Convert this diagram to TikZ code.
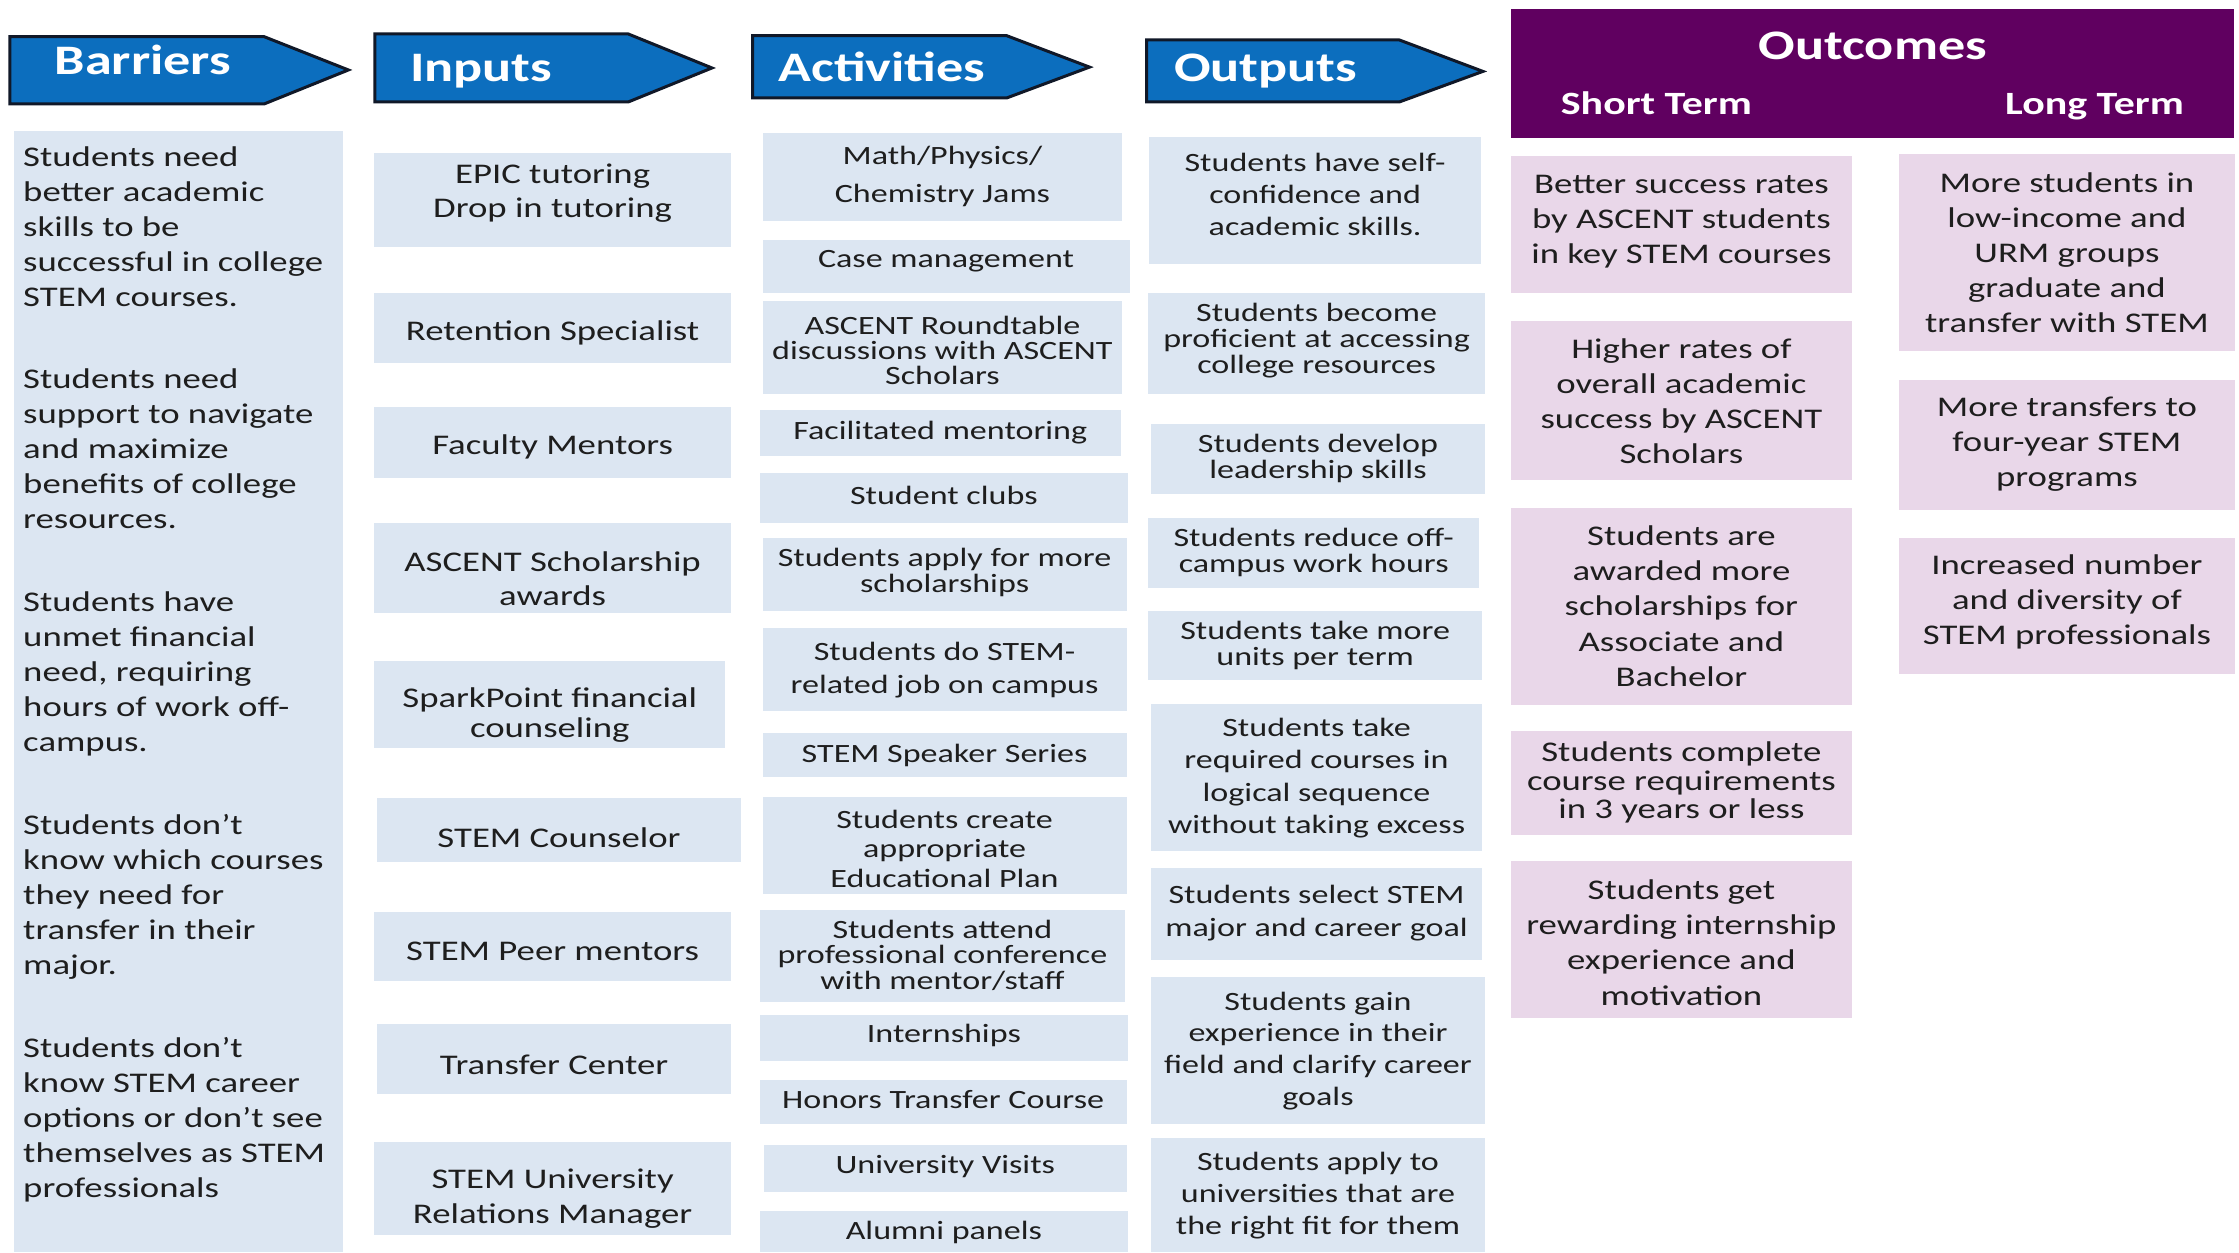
\documentclass[tikz,border=0pt]{standalone}
\usepackage{fontspec}
\setmainfont{Carlito}[FakeStretch=1.29]
\usetikzlibrary{fit}
\definecolor{boxblue}{RGB}{220,230,242}
\definecolor{boxpink}{RGB}{233,215,233}
\definecolor{hdrpurple}{RGB}{96,0,96}
\definecolor{arrowblue}{RGB}{12,110,190}
\definecolor{arrowedge}{RGB}{16,24,40}
\definecolor{txt}{RGB}{30,30,30}
\newcommand\fs[2]{\fontsize{#1}{#2}\selectfont}
% name, x1, y1, x2, y2, box style, text style, text centre y, text
\newcommand\bx[9]{\node[#6,fit={(#2,#3) (#4,#5)}] (#1) {};
  \node[cell,#7] (#1t) at ({(#2+#4)/2},{#8+2}) {#9};}
\begin{document}
\begin{tikzpicture}[x=0.714pt,y=-0.714pt,
  cell/.style={inner sep=0pt, align=center, text=txt},
  blu/.style={inner sep=0pt, fill=boxblue},
  pnk/.style={inner sep=0pt, fill=boxpink},
  big/.style={font=\fs{14.25}{#1}}, big/.default=17.5,
  sml/.style={font=\fs{13.2}{#1}}, sml/.default=16,
  hdr/.style={text=white, font=\fs{21}{25}\bfseries, inner sep=0pt},
  sub/.style={text=white, font=\fs{16.25}{19}\bfseries, inner sep=0pt},
  arr/.style={fill=arrowblue, draw=arrowedge, line width=1.5pt, line join=miter}]
\useasboundingbox (0,0) rectangle (1568,877);
\fill[white] (0,0) rectangle (1568,877);

% ---- header arrows
\draw[arr] (7,25.7) -- (185,25.7) -- (244,49) -- (185,72.8) -- (7,72.8) -- cycle;
\node[hdr, anchor=base west] (hBarriers) at (38,52.5) {Barriers};
\draw[arr] (262.6,23.8) -- (440,23.8) -- (498.6,47.6) -- (440,71.4) -- (262.6,71.4) -- cycle;
\node[hdr, anchor=base west] (hInputs) at (287,57.2) {Inputs};
\draw[arr] (527,25) -- (705,25) -- (763,47) -- (705,68.6) -- (527,68.6) -- cycle;
\node[hdr, anchor=base west] (hActivities) at (545,57.2) {Activities};
\draw[arr] (803,28) -- (980,28) -- (1038.5,50) -- (980,71.4) -- (803,71.4) -- cycle;
\node[hdr, anchor=base west] (hOutputs) at (822,57.2) {Outputs};

% ---- outcomes header
\node[fill=hdrpurple, inner sep=0pt, fit={(1058,6.5) (1564.5,96.4)}] (outc) {};
\node[hdr, anchor=base] (hOutcomes) at (1311.6,42) {Outcomes};
\node[sub, anchor=base] (hShort) at (1160,80.5) {Short Term};
\node[sub, anchor=base] (hLong) at (1466.8,80.5) {Long Term};

% ---- barriers
\node[blu, fit={(10,92) (240,877)}] (bar) {};
\node[cell, big, align=left, anchor=west] (bartext) at (16,472)
{Students need\\better academic\\skills to be\\successful in college\\STEM courses.\\[23.9pt]
Students need\\support to navigate\\and maximize\\benefits of college\\resources.\\[23.9pt]
Students have\\unmet financial\\need, requiring\\hours of work off-\\campus.\\[23.9pt]
Students don’t\\know which courses\\they need for\\transfer in their\\major.\\[23.9pt]
Students don’t\\know STEM career\\options or don’t see\\themselves as STEM\\professionals};

% ---- inputs
\bx{i1}{262}{107}{512}{173}{blu}{big=17.1}{133}{EPIC tutoring\\Drop in tutoring}
\bx{i2}{262}{205}{512}{254}{blu}{big}{231}{Retention Specialist}
\bx{i3}{262}{285}{512}{335}{blu}{big}{311}{Faculty Mentors}
\bx{i4}{262}{366}{512}{429}{blu}{big=17.1}{403}{ASCENT Scholarship\\awards}
\bx{i5}{262}{463}{508}{524}{blu}{big=15}{498.5}{SparkPoint financial\\counseling}
\bx{i6}{264}{559}{519}{604}{blu}{big}{585}{STEM Counselor}
\bx{i7}{262}{639}{512}{687}{blu}{big}{664}{STEM Peer mentors}
\bx{i8}{264}{717}{512}{766}{blu}{big}{744}{Transfer Center}
\bx{i9}{262}{800}{512}{865}{blu}{big=17.8}{837.5}{STEM University\\Relations Manager}

% ---- activities
\bx{a1}{534}{93}{786}{155}{blu}{sml=19.3}{121.5}{Math/Physics/\\Chemistry Jams}
\bx{a2}{534}{168}{791}{205}{blu}{sml}{181}{Case management}
\bx{a3}{534}{211}{786}{276}{blu}{sml=12.5}{243.5}{ASCENT Roundtable\\discussions with ASCENT\\Scholars}
\bx{a4}{532}{287}{785}{319}{blu}{sml}{301}{Facilitated mentoring}
\bx{a5}{532}{331}{790}{366}{blu}{sml}{345}{Student clubs}
\bx{a6}{534}{377}{789}{428}{blu}{sml=12.9}{399}{Students apply for more\\scholarships}
\bx{a7}{534}{440}{789}{498}{blu}{sml=16.4}{467.5}{Students do STEM-\\related job on campus}
\bx{a8}{534}{513}{789}{544}{blu}{sml}{527}{STEM Speaker Series}
\bx{a9}{534}{558}{789}{626}{blu}{sml=14.6}{592.5}{Students create\\appropriate\\Educational Plan}
\bx{a10}{532}{637}{788}{702}{blu}{sml=12.9}{667}{Students attend\\professional conference\\with mentor/staff}
\bx{a11}{532}{711}{790}{743}{blu}{sml}{723}{Internships}
\bx{a12}{532}{756}{789}{787}{blu}{sml}{768}{Honors Transfer Course}
\bx{a13}{535}{802}{789}{835}{blu}{sml}{815}{University Visits}
\bx{a14}{532}{848}{790}{877}{blu}{sml}{861}{Alumni panels}

% ---- outputs
\bx{o1}{805}{96}{1037}{185}{blu}{sml=16}{134.5}{Students have self-\\confidence and\\academic skills.}
\bx{o2}{804}{205}{1040}{276}{blu}{sml=13.2}{236.5}{Students become\\proficient at accessing\\college resources}
\bx{o3}{806}{297}{1040}{346}{blu}{sml=12.9}{319}{Students develop\\leadership skills}
\bx{o4}{804}{363}{1036}{412}{blu}{sml=12.9}{385}{Students reduce off-\\campus work hours}
\bx{o5}{804}{428}{1038}{476}{blu}{sml=12.9}{450}{Students take more\\units per term}
\bx{o6}{806}{493}{1038}{596}{blu}{sml=16.2}{543}{Students take\\required courses in\\logical sequence\\without taking excess}
\bx{o7}{806}{608}{1038}{672}{blu}{sml=16.4}{637.5}{Students select STEM\\major and career goal}
\bx{o8}{806}{684}{1040}{787}{blu}{sml=15.9}{734}{Students gain\\experience in their\\field and clarify career\\goals}
\bx{o9}{806}{797}{1040}{877}{blu}{sml=16}{835.5}{Students apply to\\universities that are\\the right fit for them}

% ---- outcomes short term
\bx{s1}{1058}{109}{1297}{205}{pnk}{big=17.5}{153}{Better success rates\\by ASCENT students\\in key STEM courses}
\bx{s2}{1058}{225}{1297}{336}{pnk}{big=17.6}{279}{Higher rates of\\overall academic\\success by ASCENT\\Scholars}
\bx{s3}{1058}{356}{1297}{494}{pnk}{big=17.7}{422.5}{Students are\\awarded more\\scholarships for\\Associate and\\Bachelor}
\bx{s4}{1058}{512}{1297}{585}{pnk}{big=14.3}{546}{Students complete\\course requirements\\in 3 years or less}
\bx{s5}{1058}{603}{1297}{713}{pnk}{big=17.6}{658}{Students get\\rewarding internship\\experience and\\motivation}

% ---- outcomes long term
\bx{l1}{1330}{108}{1565}{246}{pnk}{big=17.5}{175}{More students in\\low-income and\\URM groups\\graduate and\\transfer with STEM}
\bx{l2}{1330}{266}{1565}{357}{pnk}{big=17.5}{309}{More transfers to\\four-year STEM\\programs}
\bx{l3}{1330}{377}{1565}{472}{pnk}{big=17.5}{419.5}{Increased number\\and diversity of\\STEM professionals}
\end{tikzpicture}
\end{document}
